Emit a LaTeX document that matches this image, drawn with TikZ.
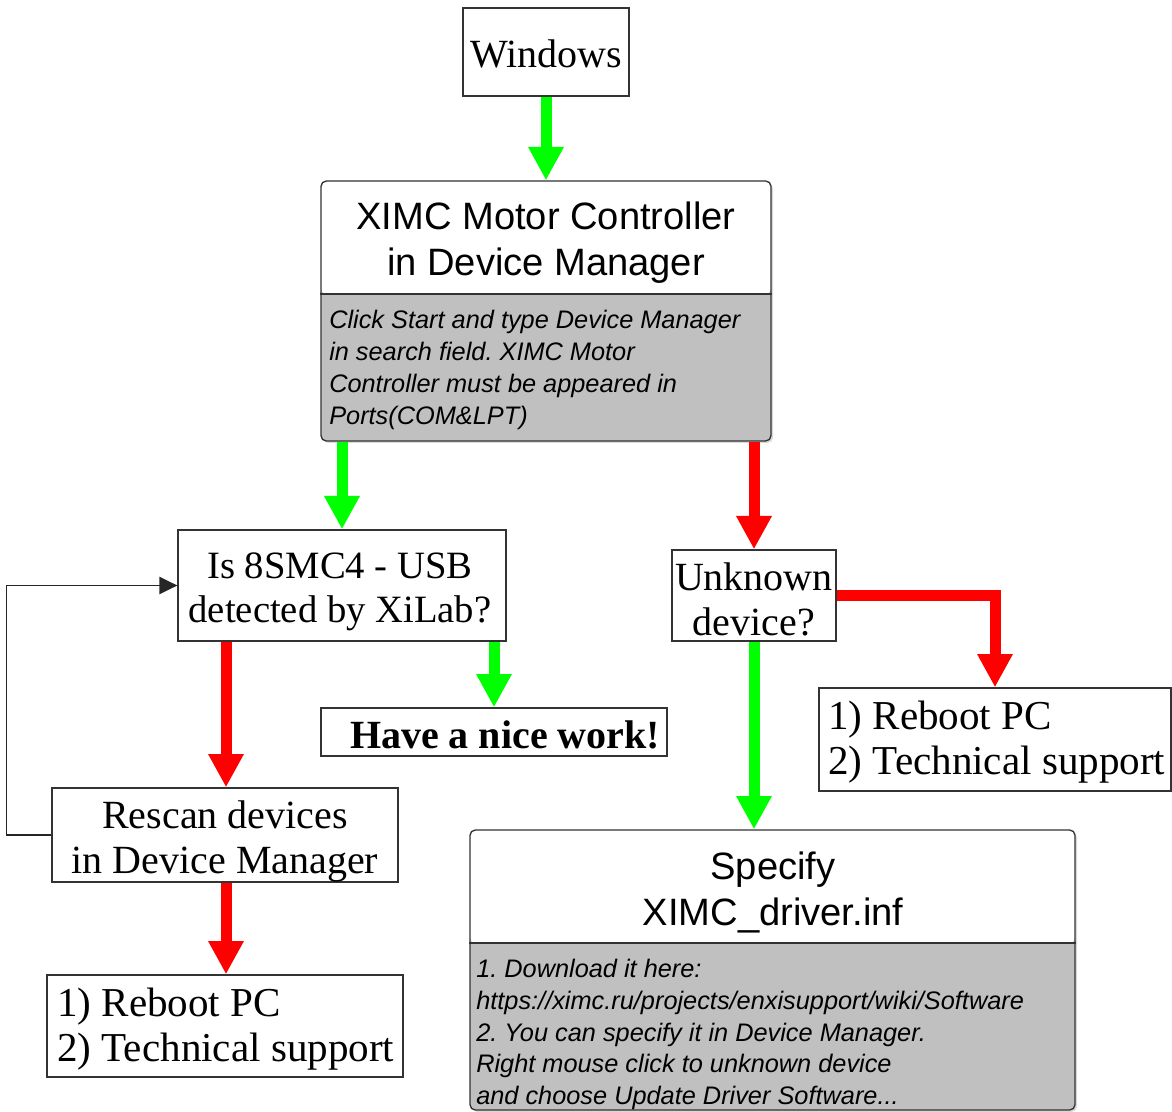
\documentclass[tikz,border=0pt]{standalone}
\usepackage{fontspec}
\setmainfont{Liberation Serif}
\newfontfamily\arialf{Liberation Sans}
\usetikzlibrary{arrows.meta,shadows,calc}
\definecolor{boxgray}{HTML}{C0C0C0}
\definecolor{lgreen}{HTML}{00FF00}
\definecolor{lred}{HTML}{FF0000}
\definecolor{edgec}{HTML}{333333}
\frenchspacing
\begin{document}
\begin{tikzpicture}[x=0.75pt,y=-0.75pt,
  box/.style={draw=edgec, line width=1pt, rectangle, inner sep=0pt, fill=white},
  stxt/.style={font=\fontsize{30}{33.75}\selectfont, align=center, inner sep=0pt},
  ltxt/.style={stxt, align=left, font=\fontsize{30.8}{33.75}\selectfont},
  bigbox/.style={draw=edgec, line width=1pt, rectangle, rounded corners=4pt, inner sep=0pt,
    fill=boxgray, drop shadow={shadow xshift=1.5pt, shadow yshift=-1.5pt, opacity=0.3}},
  titletxt/.style={font=\arialf\fontsize{28.6}{34.5}\selectfont, align=center, inner sep=0pt},
  bodytxt/.style={font=\arialf\itshape\fontsize{19}{23.8}\selectfont, align=left, inner sep=0pt, anchor=west},
  garrow/.style={draw=lgreen, line width=8.25pt, -{Triangle[length=25pt,width=25pt]}},
  rarrow/.style={draw=lred, line width=8.25pt, -{Triangle[length=25pt,width=25pt]}},
  backarrow/.style={draw=black!85, line width=1.2pt, -{Triangle[length=13.5pt,width=13pt]}}
]
\useasboundingbox (0,0) rectangle (1172,1112);

% boxes
\node[box, minimum width=166*0.75pt, minimum height=88*0.75pt] (win) at (546,52) {};
\node[stxt] (wint) at (546,54) {Windows};

\node[bigbox, minimum width=450*0.75pt, minimum height=260*0.75pt,
  path picture={\fill[white] (path picture bounding box.north west) rectangle ([yshift=-84.75pt]path picture bounding box.north east);}] (ximc) at (546,311) {};
\draw[edgec, line width=1pt] (ximc.west |- 0,294) -- (ximc.east |- 0,294);
\node[titletxt] (ximct) at (546,243) {XIMC Motor Controller\\in Device Manager};
\node[bodytxt] (ximcb) at (329,370) {Click Start and type Device Manager\\in search field. XIMC Motor\\Controller must be appeared in\\Ports(COM\&LPT)};

\node[box, minimum width=328*0.75pt, minimum height=111*0.75pt] (is) at (342,585.5) {};
\node[stxt, font=\fontsize{29}{33}\selectfont] (ist) at (340,592) {Is 8SMC4 - USB\\detected by XiLab?};

\node[box, minimum width=346*0.75pt, minimum height=48*0.75pt] (nice) at (494,732) {};
\node[stxt, font=\bfseries\fontsize{30}{33}\selectfont] (nicet) at (505,735) {Have a nice work!};

\node[box, minimum width=346*0.75pt, minimum height=94*0.75pt] (resc) at (225,835) {};
\node[stxt] (resct) at (225,841) {Rescan devices\\in Device Manager};

\node[box, minimum width=356*0.75pt, minimum height=102*0.75pt] (reb1) at (225,1026) {};
\node[ltxt, anchor=west] (reb1t) at (57,1029) {1) Reboot PC\\2) Technical support};

\node[box, minimum width=164*0.75pt, minimum height=91*0.75pt] (unk) at (754,595.5) {};
\node[stxt] (unkt) at (754,599) {Unknown\\device?};

\node[box, minimum width=352*0.75pt, minimum height=103*0.75pt] (reb2) at (995,739.5) {};
\node[ltxt, anchor=west] (reb2t) at (828,742) {1) Reboot PC\\2) Technical support};

\node[bigbox, minimum width=605*0.75pt, minimum height=280*0.75pt,
  path picture={\fill[white] (path picture bounding box.north west) rectangle ([yshift=-84.75pt]path picture bounding box.north east);}] (spec) at (772.5,970) {};
\draw[edgec, line width=1pt] (spec.west |- 0,943) -- (spec.east |- 0,943);
\node[titletxt] (spect) at (773,892.5) {Specify\\XIMC\_driver.inf};
\node[bodytxt] (specb) at (476,1034.5) {1. Download it here:\\https://ximc.ru/projects/enxisupport/wiki/Software\\2. You can specify it in Device Manager.\\Right mouse click to unknown device\\and choose Update Driver Software...};

% connectors
\draw[garrow] (win.south) -- (ximc.north);
\draw[garrow] (is.north |- ximc.south) -- (is.north);
\draw[rarrow] (unk.north |- ximc.south) -- (unk.north);
\draw[rarrow] ([xshift=0.75pt]resc.north |- is.south) -- ([xshift=0.75pt]resc.north);
\draw[garrow] (nice.north |- is.south) -- (nice.north);
\draw[rarrow] ([xshift=0.75pt]resc.south) -- ([xshift=0.75pt]resc.south |- reb1.north);
\draw[rarrow] (unk.east) -| (reb2.north);
\draw[garrow] (unk.south) -- (unk.south |- spec.north);
\draw[backarrow] (resc.west) -- ++(-45,0) |- (is.west);
\end{tikzpicture}
\end{document}
